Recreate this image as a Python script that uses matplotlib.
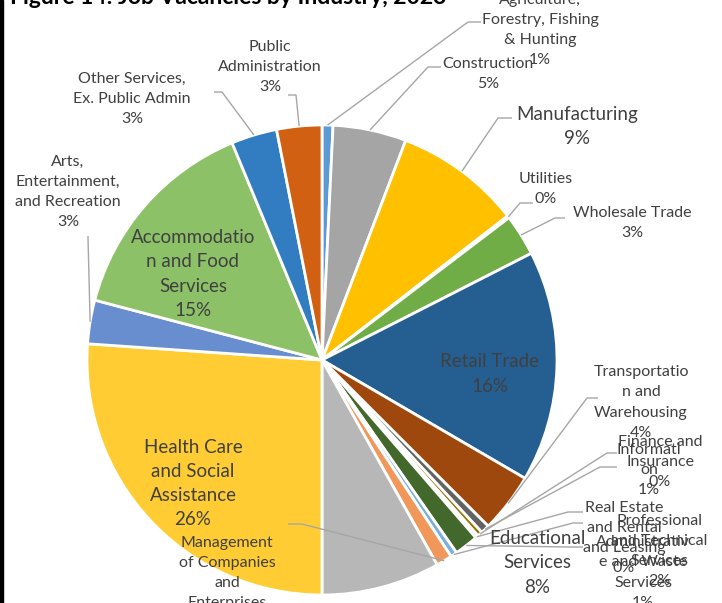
import numpy as np
import matplotlib
matplotlib.use("Agg")
import matplotlib.pyplot as plt
from matplotlib.patches import Rectangle

# ---------------- data ----------------
industries = [
    "Agriculture, Forestry, Fishing & Hunting", "Construction", "Manufacturing",
    "Utilities", "Wholesale Trade", "Retail Trade", "Transportation and Warehousing",
    "Information", "Finance and Insurance", "Real Estate and Rental and Leasing",
    "Professional and Technical Services", "Administrative and Waste Services",
    "Management of Companies and Enterprises", "Educational Services",
    "Health Care and Social Assistance", "Arts, Entertainment, and Recreation",
    "Accommodation and Food Services", "Other Services, Ex. Public Admin",
    "Public Administration",
]
shares = [0.75, 5.05, 8.7, 0.15, 2.85, 15.9, 4.1, 0.6, 0.35, 0.2, 1.65, 0.45,
          1.1, 8.15, 26.1, 3.0, 14.65, 3.15, 3.1]
pct_labels = ["1%", "5%", "9%", "0%", "3%", "16%", "4%", "1%", "0%", "0%", "2%",
              "1%", "1%", "8%", "26%", "3%", "15%", "3%", "3%"]
label_text = [
    "Agriculture,\nForestry, Fishing\n& Hunting", "Construction", "Manufacturing",
    "Utilities", "Wholesale Trade", "Retail Trade", "Transportatio\nn and\nWarehousing",
    "Informati\non", "Finance and\nInsurance", "Real Estate\nand Rental\nand Leasing",
    "Professional\nand Technical\nServices", "Administrativ\ne and Waste\nServices",
    "Management\nof Companies\nand\nEnterprises", "Educational\nServices",
    "Health Care\nand Social\nAssistance", "Arts,\nEntertainment,\nand Recreation",
    "Accommodatio\nn and Food\nServices", "Other Services,\nEx. Public Admin",
    "Public\nAdministration",
]
colors = ["#5B9BD5", "#A5A5A5", "#FFC000", "#4472C4", "#70AD47", "#255E91",
          "#9E480E", "#636363", "#997300", "#264478", "#43682B", "#7CAFDD",
          "#F1975A", "#B7B7B7", "#FFCD33", "#698ED0", "#8CC168", "#327DC2",
          "#D26012"]
title = "Figure 14: Job Vacancies by Industry, 2023"

# ---------------- layout (pixel space) ----------------
W, H = 722, 603
CX, CY, R = 322, 360, 235
FONT = ["Lato", "DejaVu Sans"]
TXT = "#404040"
LEAD = "#A6A6A6"
S_SMALL, S_BIG = 11.5, 13.5

# label placement: (center x, center y, size, leader points from label side)
place = [
    (540, 30, S_SMALL, [(481, 22), (468, 22)]),
    (488, 74, S_SMALL, [(441, 67), (428, 67)]),
    (577, 126.5, S_BIG, [(512, 118), (498, 118)]),
    (546, 189, S_SMALL, [(533, 203), (520, 203)]),
    (632, 223, S_SMALL, [(565, 218), (555, 218)]),
    (490, 374, S_BIG, None),
    (641, 402.5, S_SMALL, [(598, 398), (587, 398)]),
    (649, 470, S_SMALL, [(617, 467), (600, 467)]),
    (660, 461.7, S_SMALL, [(617, 453), (607, 453)]),
    (624, 537.75, S_SMALL, [(583, 512), (568, 512)]),
    (659, 551, S_SMALL, [(583, 547), (570, 547)]),
    (643, 572.5, S_SMALL, [(583, 523), (573, 523)]),
    (227, 583, S_SMALL, [(288, 524), (302, 524)]),
    (537, 563, S_BIG, None),
    (193, 483.5, S_BIG, None),
    (68, 192, S_SMALL, [(88, 236), (88, 238)]),
    (193, 274, S_BIG, None),
    (132, 99, S_SMALL, [(214, 92), (222, 92)]),
    (270, 67, S_SMALL, [(288, 95), (296, 95)]),
]

fig = plt.figure(figsize=(W / 100, H / 100), dpi=100)
ax = fig.add_axes([0, 0, 1, 1])

ax.pie(shares, colors=colors, startangle=90, counterclock=False,
       center=(CX, H - CY), radius=R,
       wedgeprops=dict(edgecolor="white", linewidth=2.0))
ax.set_xlim(0, W)
ax.set_ylim(0, H)
ax.set_aspect("equal")
ax.axis("off")

# mid angles (clockwise from top) from the data
tot = float(np.sum(shares))
cum = np.cumsum([0] + shares[:-1])
mids = [(c + v / 2) / tot * 2 * np.pi for c, v in zip(cum, shares)]

for i, (txt, pct) in enumerate(zip(label_text, pct_labels)):
    x, y, size, lead = place[i]
    ls = 1.55 if size == S_SMALL else 1.52
    ax.text(x, H - y, txt + "\n" + pct, ha="center", va="center",
            multialignment="center", fontsize=size, color=TXT,
            family=FONT, linespacing=ls, zorder=5)
    if lead is not None:
        th = mids[i]
        ex = CX + R * np.sin(th)
        ey = CY - R * np.cos(th)
        xs = [p[0] for p in lead] + [ex]
        ys = [H - p[1] for p in lead] + [H - ey]
        ax.plot(xs, ys, color=LEAD, lw=1.0, zorder=4, solid_capstyle="butt")

ax.text(10, H - 4, title, ha="left", va="baseline", fontsize=16.5,
        fontweight="bold", color="black", family=FONT)

fig.patches.append(Rectangle((0, 0), 3 / W, 1, transform=fig.transFigure,
                             color="black", zorder=10))

fig.savefig("out.png", dpi=100)
